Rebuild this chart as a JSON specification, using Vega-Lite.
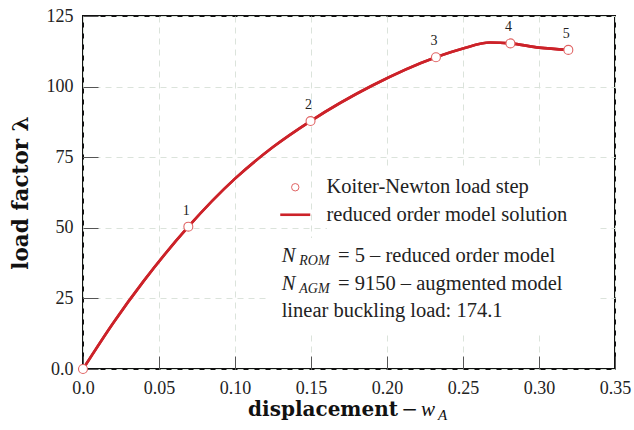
{
  "$schema": "https://vega.github.io/schema/vega-lite/v6.json",
  "width": 532,
  "height": 353,
  "autosize": {"type": "none"},
  "padding": {"left": 83, "top": 16, "right": 19, "bottom": 61},
  "background": "white",
  "config": {
    "view": {"stroke": "#111111", "strokeWidth": 2},
    "font": "Liberation Serif",
    "text": {"font": "Liberation Serif", "color": "#222222"}
  },
  "datasets": {
    "curve": [
      {"x": 0, "y": 0},
      {"x": 0.02, "y": 16.4},
      {"x": 0.04, "y": 31.2},
      {"x": 0.0693, "y": 50.4},
      {"x": 0.1, "y": 67.4},
      {"x": 0.125, "y": 78.6},
      {"x": 0.1497, "y": 87.8},
      {"x": 0.19, "y": 100.3},
      {"x": 0.2322, "y": 110.4},
      {"x": 0.25, "y": 113.5},
      {"x": 0.2678, "y": 115.6},
      {"x": 0.2812, "y": 115.3},
      {"x": 0.3, "y": 113.8},
      {"x": 0.3193, "y": 113.0}
    ],
    "steps": [
      {"x": 0, "y": 0, "step": 0},
      {"x": 0.0693, "y": 50.4, "step": 1},
      {"x": 0.1497, "y": 87.8, "step": 2},
      {"x": 0.2322, "y": 110.4, "step": 3},
      {"x": 0.2812, "y": 115.3, "step": 4},
      {"x": 0.3193, "y": 113.0, "step": 5}
    ]
  },
  "layer": [
    {
      "data": {"name": "curve"},
      "mark": {"type": "line", "interpolate": "monotone", "strokeWidth": 2.6},
      "encoding": {
        "x": {
          "field": "x", "type": "quantitative",
          "scale": {"domain": [0, 0.35], "nice": false},
          "axis": {
            "values": [0, 0.05, 0.1, 0.15, 0.2, 0.25, 0.3, 0.35],
            "labelExpr": "datum.value === 0 ? '0.0' : format(datum.value, '.2f')",
            "title": null,
            "domain": false,
            "tickSize": -13,
            "tickColor": "#555555",
            "labelFont": "Liberation Serif",
            "labelFontSize": 18,
            "labelColor": "#222222",
            "labelPadding": 23,
            "labelFlush": false,
            "gridColor": "#dbe3db",
            "gridDash": [6, 5]
          }
        },
        "y": {
          "field": "y", "type": "quantitative",
          "scale": {"domain": [0, 125], "nice": false},
          "axis": {
            "values": [0, 25, 50, 75, 100, 125],
            "labelExpr": "datum.value === 0 ? '0.0' : datum.label",
            "title": "load factor  λ",
            "titleFont": "DejaVu Serif",
            "titleFontWeight": "bold",
            "titleFontSize": 21.5,
            "titleColor": "#111111",
            "titlePadding": 14,
            "domain": false,
            "tickSize": -15,
            "tickColor": "#555555",
            "labelFont": "Liberation Serif",
            "labelFontSize": 18,
            "labelColor": "#222222",
            "labelPadding": 25,
            "labelFlush": false,
            "gridColor": "#dbe3db",
            "gridDash": [6, 5]
          }
        },
        "color": {
          "datum": "reduced order model solution",
          "type": "nominal",
          "scale": {
            "domain": ["Koiter-Newton load step", "reduced order model solution"],
            "range": ["#e06464", "#cc2229"]
          },
          "legend": {
            "orient": "none",
            "legendX": 202,
            "legendY": 161,
            "title": null,
            "padding": 0,
            "symbolSize": 900,
            "labelFont": "Liberation Serif",
            "labelFontSize": 20.5,
            "labelColor": "#222222",
            "labelOffset": 21,
            "labelLimit": 400,
            "rowPadding": 6.5,
            "encode": {
              "symbols": {
                "update": {
                  "shape": {"signal": "datum.value === 'Koiter-Newton load step' ? 'circle' : 'stroke'"},
                  "size": {"signal": "datum.value === 'Koiter-Newton load step' ? 55 : 900"},
                  "strokeWidth": {"signal": "datum.value === 'Koiter-Newton load step' ? 1 : 2.6"},
                  "stroke": {"signal": "datum.value === 'Koiter-Newton load step' ? '#e06464' : '#cc2229'"},
                  "fill": {"value": "transparent"},
                  "opacity": {"value": 1}
                }
              }
            }
          }
        }
      }
    },
    {
      "data": {"values": [{}]},
      "mark": {"type": "rect", "fill": "white"},
      "encoding": {
        "x": {"datum": 0.1605}, "x2": {"datum": 0.3395},
        "y": {"datum": 70.5}, "y2": {"datum": 46.4}
      }
    },
    {
      "data": {"values": [{}]},
      "mark": {"type": "rect", "fill": "white"},
      "encoding": {
        "x": {"datum": 0.123}, "x2": {"datum": 0.3395},
        "y": {"datum": 46.4}, "y2": {"datum": 13.1}
      }
    },
    {
      "data": {"name": "curve"},
      "mark": {"type": "line", "interpolate": "monotone", "strokeWidth": 2.6, "color": "#cc2229"},
      "encoding": {
        "x": {"field": "x", "type": "quantitative"},
        "y": {"field": "y", "type": "quantitative"}
      }
    },
    {
      "data": {"name": "steps"},
      "mark": {"type": "point", "shape": "circle", "filled": false, "fill": "white", "size": 80, "strokeWidth": 1.1, "opacity": 1},
      "encoding": {
        "x": {"field": "x", "type": "quantitative"},
        "y": {"field": "y", "type": "quantitative"},
        "color": {"datum": "Koiter-Newton load step", "type": "nominal"}
      }
    },
    {
      "data": {"name": "steps"},
      "transform": [{"filter": "datum.step > 0"}],
      "mark": {"type": "text", "fontSize": 14, "dy": -16, "dx": -2, "color": "#222222"},
      "encoding": {
        "x": {"field": "x", "type": "quantitative"},
        "y": {"field": "y", "type": "quantitative"},
        "text": {"field": "step", "type": "nominal"}
      }
    },
    {
      "data": {"values": [{}]},
      "mark": {"type": "text", "align": "left", "baseline": "alphabetic", "fontSize": 20.5, "fontStyle": "italic", "text": "N"},
      "encoding": {"x": {"datum": 0.1307}, "y": {"datum": 38.0}}
    },
    {
      "data": {"values": [{}]},
      "mark": {"type": "text", "align": "left", "baseline": "alphabetic", "fontSize": 14, "fontStyle": "italic", "text": "ROM"},
      "encoding": {"x": {"datum": 0.1423}, "y": {"datum": 36.9}}
    },
    {
      "data": {"values": [{}]},
      "mark": {"type": "text", "align": "left", "baseline": "alphabetic", "fontSize": 20.5, "text": "= 5 – reduced order model"},
      "encoding": {"x": {"datum": 0.1678}, "y": {"datum": 38.0}}
    },
    {
      "data": {"values": [{}]},
      "mark": {"type": "text", "align": "left", "baseline": "alphabetic", "fontSize": 20.5, "fontStyle": "italic", "text": "N"},
      "encoding": {"x": {"datum": 0.1307}, "y": {"datum": 27.97}}
    },
    {
      "data": {"values": [{}]},
      "mark": {"type": "text", "align": "left", "baseline": "alphabetic", "fontSize": 14, "fontStyle": "italic", "text": "AGM"},
      "encoding": {"x": {"datum": 0.1423}, "y": {"datum": 26.9}}
    },
    {
      "data": {"values": [{}]},
      "mark": {"type": "text", "align": "left", "baseline": "alphabetic", "fontSize": 20.5, "text": "= 9150 – augmented model"},
      "encoding": {"x": {"datum": 0.1678}, "y": {"datum": 27.97}}
    },
    {
      "data": {"values": [{}]},
      "mark": {"type": "text", "align": "left", "baseline": "alphabetic", "fontSize": 20.5, "text": "linear buckling load: 174.1"},
      "encoding": {"x": {"datum": 0.1307}, "y": {"datum": 18.41}}
    },
    {
      "data": {"values": [{}]},
      "mark": {"type": "text", "align": "left", "baseline": "alphabetic", "font": "DejaVu Serif", "fontWeight": "bold", "fontSize": 20, "color": "#111111", "text": "displacement"},
      "encoding": {"x": {"datum": 0.1086}, "y": {"datum": -16.6}}
    },
    {
      "data": {"values": [{}]},
      "mark": {"type": "text", "align": "left", "baseline": "alphabetic", "font": "DejaVu Serif", "fontSize": 20, "color": "#111111", "text": "−"},
      "encoding": {"x": {"datum": 0.2093}, "y": {"datum": -16.6}}
    },
    {
      "data": {"values": [{}]},
      "mark": {"type": "text", "align": "left", "baseline": "alphabetic", "fontSize": 21, "fontStyle": "italic", "color": "#111111", "text": "w"},
      "encoding": {"x": {"datum": 0.2224}, "y": {"datum": -16.6}}
    },
    {
      "data": {"values": [{}]},
      "mark": {"type": "text", "align": "left", "baseline": "alphabetic", "fontSize": 15, "fontStyle": "italic", "color": "#111111", "text": "A"},
      "encoding": {"x": {"datum": 0.2336}, "y": {"datum": -18.0}}
    }
  ]
}
